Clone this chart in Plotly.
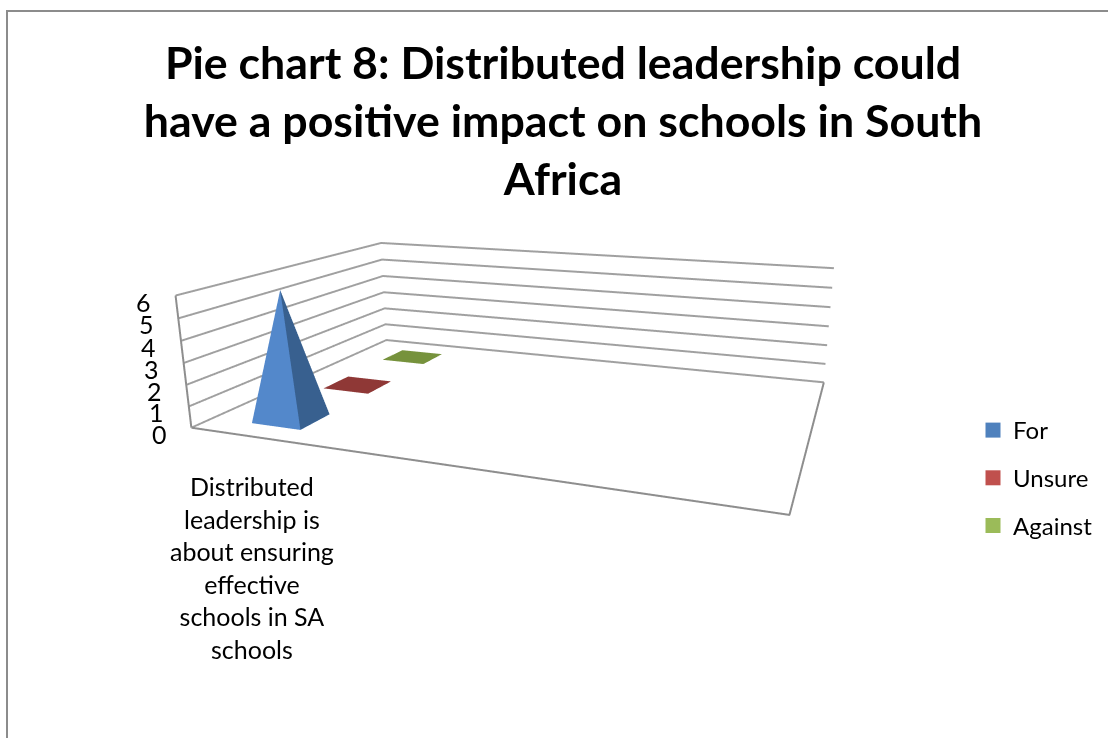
import plotly.graph_objects as go

W, H = 1108, 738
TITLE = "Pie chart 8: Distributed leadership could<br>have a positive impact on schools in South<br>Africa"
CATEGORY = "Distributed<br>leadership is<br>about ensuring<br>effective<br>schools in SA<br>schools"
series_names = ["For", "Unsure", "Against"]
series_values = [6, 0, 0]
legend_colors = ["#4F81BD", "#C0504D", "#9BBB59"]
front_colors = ["#5388CB", "#8F3836", "#76923C"]
side_colors = ["#38608F", "#8F3836", "#76923C"]
z_ticks = [0, 1, 2, 3, 4, 5, 6]

# chart geometry (in axis units)
N_CATEGORIES = 4
category_center = 0.53
series_depth = [0.453, 1.45, 2.48]
half = 0.2
GRID = "#A0A0A0"
EDGE = "#8E8E8E"
FONT = "Lato"

fig = go.Figure()
for name, v, d, fc, sc, lc in zip(series_names, series_values, series_depth,
                                  front_colors, side_colors, legend_colors):
    x0, x1 = category_center - half, category_center + half
    y0, y1 = d - half, d + half
    xs = [x0, x1, x1, x0, category_center]
    ys = [y0, y0, y1, y1, d]
    zs = [0, 0, 0, 0, v]
    fig.add_trace(go.Mesh3d(
        x=xs, y=ys, z=zs,
        i=[0, 1, 2, 3, 0, 0], j=[1, 2, 3, 0, 1, 2], k=[4, 4, 4, 4, 2, 3],
        facecolor=[fc, sc, sc, fc, fc, fc],
        flatshading=True, hoverinfo="skip", showlegend=False,
        lighting=dict(ambient=1, diffuse=0, specular=0, roughness=1, fresnel=0),
    ))
    fig.add_trace(go.Scatter(x=[None], y=[None], mode="markers", name=name,
                             legendgroup=name, hoverinfo="skip",
                             marker=dict(symbol="square", size=15, color=lc)))

# floor outline and the vertical axis edge
fig.add_trace(go.Scatter3d(
    x=[0, N_CATEGORIES, N_CATEGORIES, None, 0, 0],
    y=[0, 0, 3, None, 0, 0],
    z=[0, 0, 0, None, 0, max(z_ticks)],
    mode="lines", line=dict(color=EDGE, width=4), hoverinfo="skip", showlegend=False))

plain = dict(showgrid=False, showbackground=False, zeroline=False, showticklabels=False,
             showline=False, ticks="", title="", showspikes=False)
tick_notes = [dict(x=0, y=0, z=v, text=str(v), showarrow=False, xanchor="center", yanchor="middle",
                   xshift=-32, yshift=-6, font=dict(family=FONT, size=25, color="#000000"))
              for v in z_ticks]
fig.update_layout(
    width=W, height=H, margin=dict(l=0, r=0, t=0, b=0),
    paper_bgcolor="rgba(0,0,0,0)", plot_bgcolor="rgba(0,0,0,0)",
    font=dict(family=FONT, color="#000000"),
    title=dict(text=TITLE, x=563 / W, xanchor="center", y=1 - 79 / H, yanchor="top",
               font=dict(family=FONT, size=44.7, color="#000000", weight="bold")),
    xaxis=dict(visible=False), yaxis=dict(visible=False),
    scene=dict(
        domain=dict(x=[0, 1], y=[0, 1]),
        xaxis=dict(plain, range=[0, N_CATEGORIES]),
        yaxis=dict(plain, range=[0, 3]),
        zaxis=dict(showbackground=False, zeroline=False, showline=False, ticks="", title="",
                   showspikes=False, range=[0, max(z_ticks)], tickvals=z_ticks,
                   showgrid=True, gridcolor=GRID, gridwidth=4, showticklabels=False),
        aspectmode="manual", aspectratio=dict(x=2.225, y=1.448, z=0.513),
        camera=dict(eye=dict(x=1.291, y=-3.257, z=0.902), center=dict(x=0.097, y=-0.001, z=-0.099),
                    up=dict(x=0.014, y=-0.007, z=1), projection=dict(type="perspective")),
        annotations=tick_notes,
    ),
    legend=dict(x=973 / W, y=1 - 408 / H, xanchor="left", yanchor="top", tracegroupgap=13.5,
                itemsizing="trace", bgcolor="rgba(0,0,0,0)",
                font=dict(family=FONT, size=24, color="#000000")),
    annotations=[dict(text=CATEGORY, xref="paper", yref="paper", x=252 / W, y=1 - 469 / H,
                      xanchor="center", yanchor="top", showarrow=False, align="center",
                      font=dict(family=FONT, size=25, color="#000000"))],
    shapes=[dict(type="rect", xref="paper", yref="paper", x0=7 / W, x1=1.02, y0=-0.02, y1=1 - 11 / H,
                 line=dict(color="#8C8C8C", width=2))],
)
fig.write_html("out.html", config=dict(displayModeBar=False),
               post_script="document.body.style.margin='0';")
